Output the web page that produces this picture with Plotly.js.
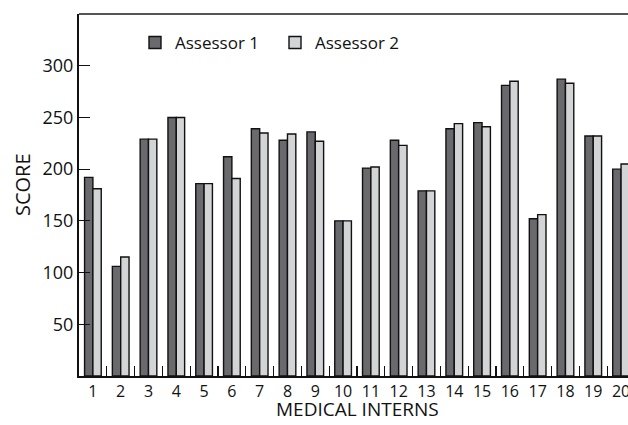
<!DOCTYPE html>
<html>
<head>
<meta charset="utf-8">
<script src="https://cdn.plot.ly/plotly-3.0.1.min.js"></script>
<style>html,body{margin:0;padding:0;background:#fff;}#chart{width:628px;height:425px;}</style>
</head>
<body>
<div id="chart"></div>
<script>
var interns = ['1','2','3','4','5','6','7','8','9','10','11','12','13','14','15','16','17','18','19','20'];
var assessor1 = [192, 106, 229, 250, 186, 212, 239, 228, 236, 150, 201, 228, 179, 239, 245, 281, 152, 287, 232, 200];
var assessor2 = [181, 115, 229, 250, 186, 191, 235, 234, 227, 150, 202, 223, 179, 244, 241, 285, 156, 283, 232, 205];
var yTickVals = [50, 100, 150, 200, 250, 300, 350];
var yTickText = ['50', '100', '150', '200', '250', '300', ''];

var FONT = 'Open Sans, Noto Sans, sans-serif';

var traces = [
  {type: 'bar', name: 'Assessor 1', x: interns, y: assessor1,
   marker: {color: '#69696e', line: {color: '#111', width: 1.4}}},
  {type: 'bar', name: 'Assessor 2', x: interns, y: assessor2,
   marker: {color: '#d3d4d6', line: {color: '#111', width: 1.4}}}
];

var layout = {
  width: 628, height: 425,
  margin: {l: 79, r: 0, t: 14, b: 49},
  paper_bgcolor: '#fff', plot_bgcolor: '#fff',
  font: {family: FONT, size: 18, color: '#111'},
  barmode: 'group', bargap: 0.4, bargroupgap: 0,
  showlegend: true,
  legend: {orientation: 'h', x: 0.102, y: 0.92, xanchor: 'left', yanchor: 'middle',
           font: {family: FONT, size: 17, color: '#111'},
           bgcolor: 'rgba(0,0,0,0)', entrywidth: 95, entrywidthmode: 'pixels',
           traceorder: 'normal'},
  xaxis: {type: 'category', range: [-0.5, 19.25], tickson: 'boundaries',
          ticks: 'inside', ticklen: 10, tickwidth: 1.2, tickcolor: '#111',
          tickangle: 0,
          showline: true, linecolor: '#111', linewidth: 2,
          showgrid: false, zeroline: false, fixedrange: true,
          tickfont: {family: FONT, size: 16, color: '#111'}},
  yaxis: {range: [0, 350], tickvals: yTickVals, ticktext: yTickText,
          ticks: 'inside', ticklen: 11, tickwidth: 1.2, tickcolor: '#111',
          showline: true, linecolor: '#111', linewidth: 2,
          showgrid: false, zeroline: false, fixedrange: true,
          tickfont: {family: FONT, size: 18, color: '#111'}},
  shapes: [
    {type: 'line', xref: 'paper', yref: 'paper', x0: 0, x1: 1, y0: 1, y1: 1,
     line: {color: '#555', width: 2}}
  ],
  annotations: [
    {text: 'MEDICAL INTERNS', xref: 'paper', yref: 'paper', x: 0.5073, y: 0,
     xanchor: 'center', yanchor: 'bottom', yshift: -48, showarrow: false,
     font: {family: FONT, size: 19, color: '#111'}},
    {text: 'SCORE', xref: 'paper', yref: 'paper', x: 0, y: 0.5, textangle: -90,
     xanchor: 'center', yanchor: 'middle', xshift: -57, yshift: 10, showarrow: false,
     font: {family: FONT, size: 20, color: '#111'}}
  ]
};

Plotly.newPlot('chart', traces, layout, {displayModeBar: false, staticPlot: true});
</script>
</body>
</html>
